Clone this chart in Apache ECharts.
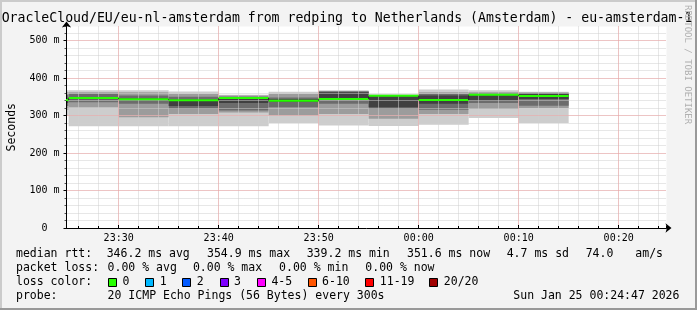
<!DOCTYPE html>
<html><head><meta charset="utf-8">
<script src="https://cdn.jsdelivr.net/npm/echarts@6/dist/echarts.min.js"></script>
<style>html,body{margin:0;padding:0;background:#f3f3f3}#c{width:697px;height:310px}</style>
</head><body><div id="c"></div>
<script>
// ---------------- data ----------------
const titleText = 'OracleCloud/EU/eu-nl-amsterdam from redping to Netherlands (Amsterdam) - eu-amsterdam-1';
const yAxisName = 'Seconds';
const watermark = 'RRDTOOL / TOBI OETIKER';
// RRD step end times (each step covers the previous 5 minutes)
const segEnds  = ['23:25','23:30','23:35','23:40','23:45','23:50','23:55','00:00','00:05','00:10','00:15'];
// smoke quantile bounds (ms)
const minMs    = [300, 271, 271, 271, 271, 280, 273, 272, 275, 293, 280];
const lo2Ms    = [315, 322, 295, 304, 308, 300, 304, 291, 304, 317, 320];
const lo1Ms    = [325, 335, 331, 318, 313, 322, 331, 317, 315, 333, 326];
const lo0Ms    = [333, 343, 340, 325, 333, 336, 345, 322, 331, 340, 344];
const hi0Ms    = [345, 349, 346, 343, 348, 343, 362, 353, 353, 358, 358];
const hi1Ms    = [355, 358, 353, 350, 350, 348, 364, 354, 357, 360, 360];
const hi2Ms    = [362, 362, 362, 357, 353, 357, 365, 355, 362, 362, 361];
const maxMs    = [367, 367, 367, 364, 355, 363, 367, 356, 369, 367, 363];
const medianMs = [341, 346.5, 343, 340.5, 346.5, 339.2, 344, 352.5, 341, 354.9, 351.6];
// legend stats
const rttStatValues = [346.2, 354.9, 339.2, 351.6];
const rttStatNames  = ['avg', 'max', 'min', 'now'];
const rttSd = 4.7;
const amS = 74.0;
const lossStatValues = [0, 0, 0, 0];
const lossLabels = ['0', '1', '2', '3', '4-5', '6-10', '11-19', '20/20'];
const lossColors = ['#26ff00', '#00b8ff', '#0059ff', '#7e00ff', '#ff00ff', '#ff5500', '#ff0000', '#a00000'];
const probeText = '20 ICMP Echo Pings (56 Bytes) every 300s';
const dateText = 'Sun Jan 25 00:24:47 2026';
const yTicks = [0, 100, 200, 300, 400, 500];

// ---------------- build ----------------
const STEP = 300000;
const MONO = '"DejaVu Sans Mono", monospace';
const pad = n => String(n).padStart(2, '0');
function toTime(hm) { const p = hm.split(':').map(Number); return new Date(2026, 0, p[0] >= 12 ? 24 : 25, p[0], p[1], 0).getTime(); }
const tStart = new Date(2026, 0, 24, 23, 24, 47).getTime();
const tEnd = new Date(2026, 0, 25, 0, 24, 47).getTime();
const rows = segEnds.map((e, i) => [toTime(e), minMs[i], lo2Ms[i], lo1Ms[i], lo0Ms[i], hi0Ms[i], hi1Ms[i], hi2Ms[i], maxMs[i], medianMs[i]]);
const SMOKE = ['#cdcdcd', '#9c9c9c', '#6c6c6c', '#404040'];

const GRID_MINOR = '#cfcfcf';
const GRID_MAJOR = '#f2a0a0';

const chart = echarts.init(document.getElementById('c'), null, { renderer: 'canvas' });

const graphics = [];
// frame
graphics.push({ type: 'rect', shape: { x: 0, y: 0, width: 697, height: 2 }, style: { fill: '#cbcbcb' }, silent: true });
graphics.push({ type: 'rect', shape: { x: 0, y: 0, width: 2, height: 310 }, style: { fill: '#cbcbcb' }, silent: true });
graphics.push({ type: 'rect', shape: { x: 0, y: 308, width: 697, height: 2 }, style: { fill: '#999999' }, silent: true });
graphics.push({ type: 'rect', shape: { x: 695, y: 0, width: 2, height: 310 }, style: { fill: '#999999' }, silent: true });
// title
graphics.push({ type: 'text', x: 347, y: 18.5, style: { text: titleText, font: '13.2px ' + MONO, fill: '#000', align: 'center', verticalAlign: 'middle' } });
// watermark
graphics.push({ type: 'text', x: 687.5, y: 5, rotation: -Math.PI / 2, style: { text: watermark, font: '9px ' + MONO, fill: '#b0b0b0', align: 'left', verticalAlign: 'middle' } });

const LF = '11.5px ' + MONO;
function txt(x, y, s) { graphics.push({ type: 'text', x: x, y: y, style: { text: s, font: LF, fill: '#000', align: 'left', verticalAlign: 'middle' } }); }
const y1 = 254.5, y2 = 268.3, y3 = 282.3, y4 = 296;
// line 1
txt(16, y1, 'median rtt:');
const rttX = [106.7, 207, 306.7, 407];
rttStatValues.forEach((v, i) => txt(rttX[i], y1, v.toFixed(1) + ' ms ' + rttStatNames[i]));
txt(506.7, y1, rttSd.toFixed(1) + ' ms sd');
txt(585.7, y1, amS.toFixed(1));
txt(635.3, y1, 'am/s');
// line 2
txt(16, y2, 'packet loss:');
const lossX = [107.6, 192.9, 279.1, 365.3];
lossStatValues.forEach((v, i) => txt(lossX[i], y2, v.toFixed(2) + ' % ' + rttStatNames[i]));
// line 3
txt(16, y3, 'loss color:');
const boxX = [108, 145.3, 182.2, 219.6, 256.9, 307.6, 365.3, 429.3];
lossLabels.forEach((l, i) => {
  graphics.push({ type: 'rect', shape: { x: Math.round(boxX[i]) + 0.5, y: 278.5, width: 8, height: 8 }, style: { fill: lossColors[i], stroke: '#000', lineWidth: 1 } });
  txt(boxX[i] + 14.5, y3, l);
});
// line 4
txt(16, y4, 'probe:');
txt(107.6, y4, probeText);
txt(513.3, y4, dateText);

const timeFmt = v => { const d = new Date(v); return pad(d.getHours()) + ':' + pad(d.getMinutes()); };

const option = {
  animation: false,
  backgroundColor: '#f3f3f3',
  grid: { left: 66.5, top: 26.5, width: 600, height: 201.5, show: true, backgroundColor: '#ffffff', borderWidth: 0, containLabel: false, outerBoundsMode: 'none' },
  xAxis: [
    { // major (10 min)
      type: 'time', min: tStart, max: tEnd, minInterval: 600500, maxInterval: 600500, z: 4,
      axisLine: { show: true, lineStyle: { color: '#000', width: 1 }, symbol: ['none', 'arrow'], symbolSize: [7, 6], symbolOffset: [0, 5] },
      axisTick: { show: true, inside: true, length: 3, lineStyle: { color: '#000' } },
      axisLabel: { show: true, formatter: timeFmt, showMinLabel: false, showMaxLabel: false, margin: 5, fontFamily: MONO, fontSize: 10, color: '#000', hideOverlap: false },
      splitLine: { show: true, showMinLine: false, showMaxLine: false, lineStyle: { color: GRID_MAJOR, type: [1, 1], width: 1 } }
    },
    { // minor (2 min)
      type: 'time', min: tStart, max: tEnd, minInterval: 120500, maxInterval: 120500, z: 3, position: 'bottom', offset: 0,
      axisLine: { show: false }, axisLabel: { show: false },
      axisTick: { show: true, inside: true, length: 2, lineStyle: { color: '#000' } },
      splitLine: { show: true, showMinLine: false, showMaxLine: false, lineStyle: { color: GRID_MINOR, type: [1, 1], width: 1 } }
    }
  ],
  yAxis: [
    {
      type: 'value', min: 0, max: 537, interval: 100, z: 4, position: 'left',
      name: yAxisName, nameLocation: 'middle', nameGap: 48, nameRotate: 90,
      nameTextStyle: { fontFamily: MONO, fontSize: 11.5, color: '#000' },
      axisLine: { show: true, lineStyle: { color: '#000', width: 1 }, symbol: ['none', 'arrow'], symbolSize: [7, 6], symbolOffset: [0, 5] },
      axisTick: { show: true, inside: false, length: 3, lineStyle: { color: '#000' } },
      axisLabel: { margin: 7, fontFamily: MONO, fontSize: 10, color: '#000', showMaxLabel: false,
        formatter: v => yTicks.indexOf(v) < 0 ? '' : (v === 0 ? '0  ' : v + ' m') },
      splitLine: { show: true, showMinLine: false, showMaxLine: false, lineStyle: { color: GRID_MAJOR, type: [1, 1], width: 1 } }
    },
    {
      type: 'value', min: 0, max: 537, interval: 20, z: 3, position: 'left', offset: 0,
      axisLine: { show: false }, axisLabel: { show: false },
      axisTick: { show: true, inside: false, length: 2, lineStyle: { color: '#555' } },
      splitLine: { show: true, showMinLine: false, showMaxLine: false, lineStyle: { color: GRID_MINOR, type: [1, 1], width: 1 } }
    }
  ],
  graphic: graphics,
  series: [
    {
      type: 'custom', name: 'smoke', xAxisIndex: 0, yAxisIndex: 0, z: 1, clip: true,
      data: rows,
      encode: { x: 0, y: [1, 8] },
      renderItem: function (params, api) {
        const t1 = api.value(0), t0 = t1 - STEP;
        const pairs = [[1, 8], [2, 7], [3, 6], [4, 5]];
        const children = pairs.map((p, k) => {
          const a = api.coord([t0, api.value(p[1])]);
          const b = api.coord([t1, api.value(p[0])]);
          return { type: 'rect', shape: { x: a[0], y: a[1], width: b[0] - a[0], height: b[1] - a[1] }, style: { fill: SMOKE[k] } };
        });
        return { type: 'group', children: children };
      }
    },
    {
      type: 'custom', name: 'median', xAxisIndex: 0, yAxisIndex: 0, z: 10, clip: true,
      data: rows,
      encode: { x: 0, y: 9 },
      renderItem: function (params, api) {
        const i = params.dataIndex;
        const t1 = api.value(0), t0 = t1 - STEP;
        const a = api.coord([t0, api.value(9)]);
        const b = api.coord([t1, api.value(9)]);
        const children = [];
        if (i > 0) {
          const p = api.coord([t0, rows[i - 1][9]]);
          children.push({ type: 'line', shape: { x1: a[0], y1: p[1], x2: a[0], y2: a[1] }, style: { stroke: '#202020', lineWidth: 1 } });
        }
        children.push({ type: 'rect', shape: { x: a[0], y: a[1] - 1, width: b[0] - a[0], height: 2 }, style: { fill: lossColors[0] } });
        return { type: 'group', children: children };
      }
    }
  ]
};
chart.setOption(option);
</script>
</body></html>
